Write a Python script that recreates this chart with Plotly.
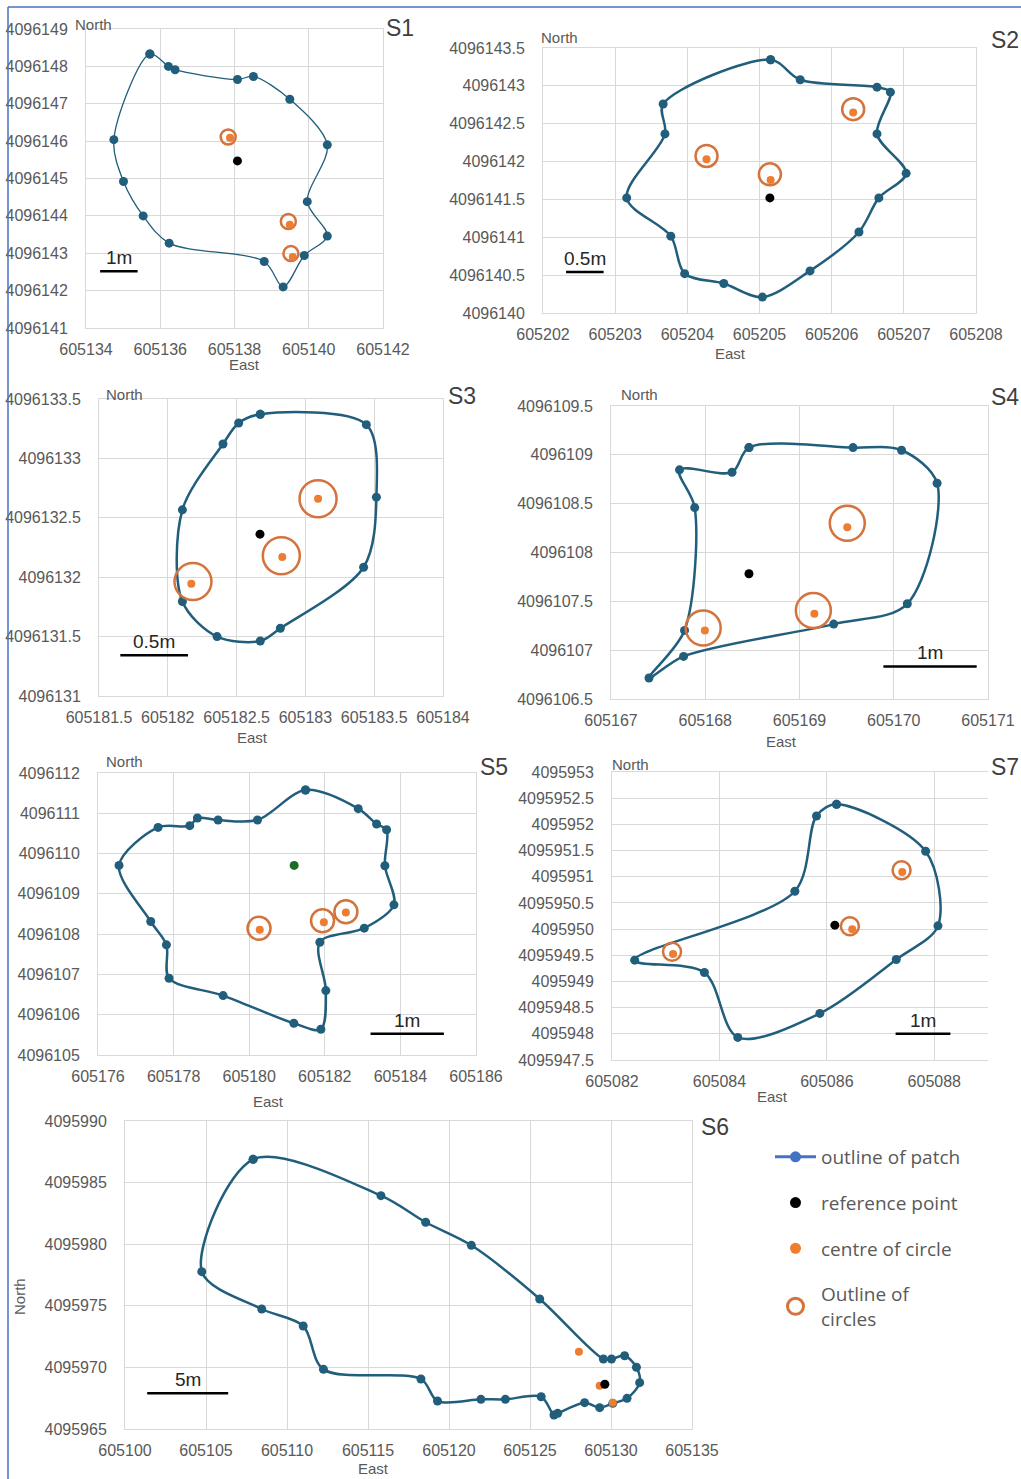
import plotly.graph_objects as go

W, H = 1021, 1479

# ---------------- data ----------------
# S1
s1_east = [605135.72, 605136.22, 605136.40, 605138.08, 605138.51, 605139.49, 605140.50, 605139.96,
           605140.50, 605139.88, 605139.31, 605138.80, 605136.24, 605135.54, 605135.01, 605134.75]
s1_north = [4096148.33, 4096148.00, 4096147.91, 4096147.65, 4096147.73, 4096147.12, 4096145.90, 4096144.38,
            4096143.46, 4096142.94, 4096142.10, 4096142.78, 4096143.27, 4096144.00, 4096144.92, 4096146.04]
s1_ring_east = [605137.83, 605139.45, 605139.52]
s1_ring_north = [4096146.11, 4096143.85, 4096142.99]
s1_centre_east = [605137.88, 605139.49, 605139.57]
s1_centre_north = [4096146.09, 4096143.76, 4096142.90]
s1_ref_east = [605138.08]
s1_ref_north = [4096145.47]

# S2
s2_east = [605205.154, 605205.564, 605206.628, 605206.814, 605206.628, 605207.032, 605206.654, 605206.378,
           605205.70, 605205.04, 605204.505, 605203.963, 605203.771, 605203.16, 605203.69, 605203.665]
s2_north = [4096143.345, 4096143.08, 4096142.983, 4096142.917, 4096142.365, 4096141.845, 4096141.52, 4096141.07,
            4096140.556, 4096140.21, 4096140.39, 4096140.52, 4096141.015, 4096141.52, 4096142.365, 4096142.76]
s2_ring_east = [605204.266, 605205.144, 605206.298]
s2_ring_north = [4096142.074, 4096141.831, 4096142.692]
s2_centre_east = [605204.266, 605205.154, 605206.298]
s2_centre_north = [4096142.03, 4096141.756, 4096142.648]
s2_ref_east = [605205.144]
s2_ref_north = [4096141.52]

# S3
s3_east = [605182.672, 605182.515, 605182.401, 605182.106, 605182.106, 605182.358, 605182.672, 605182.818,
           605183.423, 605183.516, 605183.443]
s3_north = [4096133.371, 4096133.298, 4096133.121, 4096132.567, 4096131.795, 4096131.50, 4096131.463, 4096131.57,
            4096132.084, 4096132.674, 4096133.284]
s3_ring_east = [605182.183, 605182.825, 605183.092]
s3_ring_north = [4096131.963, 4096132.18, 4096132.66]
s3_centre_east = [605182.171, 605182.832, 605183.092]
s3_centre_north = [4096131.944, 4096132.171, 4096132.66]
s3_ref_east = [605182.67]
s3_ref_north = [4096132.362]

# S4
s4_east = [605168.464, 605169.568, 605170.083, 605170.46, 605170.144, 605169.363, 605167.77, 605167.403,
           605167.78, 605167.888, 605167.727, 605168.284]
s4_north = [4096109.074, 4096109.074, 4096109.047, 4096108.709, 4096107.475, 4096107.267, 4096106.936, 4096106.715,
            4096107.202, 4096108.46, 4096108.846, 4096108.822]
s4_ring_east = [605167.978, 605169.147, 605169.507]
s4_ring_north = [4096107.226, 4096107.407, 4096108.30]
s4_centre_east = [605167.996, 605169.158, 605169.507]
s4_centre_north = [4096107.202, 4096107.373, 4096108.259]
s4_ref_east = [605168.464]
s4_ref_north = [4096107.782]

# S5
s5_east = [605181.49, 605182.884, 605183.37, 605183.635, 605183.59, 605183.829, 605183.043, 605181.869,
           605182.028, 605181.896, 605181.181, 605179.31, 605177.88, 605177.81, 605177.395, 605176.556,
           605177.589, 605178.427, 605178.63, 605179.177, 605180.219]
s5_north = [4096111.578, 4096111.114, 4096110.733, 4096110.592, 4096109.698, 4096108.728, 4096108.148, 4096107.80,
            4096106.599, 4096105.638, 4096105.787, 4096106.475, 4096106.906, 4096107.734, 4096108.314, 4096109.706,
            4096110.65, 4096110.692, 4096110.882, 4096110.833, 4096110.833]
s5_ring_east = [605180.26, 605181.94, 605182.558]
s5_ring_north = [4096108.148, 4096108.33, 4096108.554]
s5_centre_east = [605180.28, 605181.975, 605182.558]
s5_centre_north = [4096108.107, 4096108.297, 4096108.538]
s5_ref_east = [605181.19]
s5_ref_north = [4096109.706]

# S7
s7_east = [605086.18, 605087.839, 605088.068, 605087.292, 605085.87, 605084.342, 605083.72, 605082.422,
           605085.404, 605085.807]
s7_north = [4095952.382, 4095951.486, 4095950.062, 4095949.42, 4095948.39, 4095947.932, 4095949.172, 4095949.407,
            4095950.723, 4095952.16]
s7_ring_east = [605083.118, 605086.429, 605087.391]
s7_ring_north = [4095949.566, 4095950.056, 4095951.124]
s7_centre_east = [605083.137, 605086.472, 605087.404]
s7_centre_north = [4095949.522, 4095949.998, 4095951.092]
s7_ref_east = [605086.149]
s7_ref_north = [4095950.075]

# S6
s6_east = [605107.91, 605115.80, 605118.56, 605121.38, 605125.60, 605129.53, 605130.03, 605130.84,
           605131.57, 605131.77, 605130.99, 605130.11, 605129.30, 605128.37, 605126.71, 605126.48,
           605125.69, 605123.48, 605121.97, 605119.29, 605118.27, 605112.25, 605111.00, 605108.44, 605104.74]
s6_north = [4095986.89, 4095983.94, 4095981.78, 4095979.91, 4095975.55, 4095970.68, 4095970.68, 4095970.95,
            4095970.01, 4095968.76, 4095967.49, 4095967.08, 4095966.73, 4095967.14, 4095966.27, 4095966.14,
            4095967.62, 4095967.41, 4095967.41, 4095967.27, 4095969.06, 4095969.84, 4095973.36, 4095974.74, 4095977.77]
s6_ring_east = []
s6_ring_north = []
s6_centre_east = [605128.02, 605129.30, 605130.11]
s6_centre_north = [4095971.28, 4095968.52, 4095967.14]
s6_ref_east = [605129.62]
s6_ref_north = [4095968.63]

# tick values
s1_xticks = [605134, 605136, 605138, 605140, 605142]
s1_yticks = [4096141, 4096142, 4096143, 4096144, 4096145, 4096146, 4096147, 4096148, 4096149]
s2_xticks = [605202, 605203, 605204, 605205, 605206, 605207, 605208]
s2_yticks = [4096140, 4096140.5, 4096141, 4096141.5, 4096142, 4096142.5, 4096143, 4096143.5]
s3_xticks = [605181.5, 605182, 605182.5, 605183, 605183.5, 605184]
s3_yticks = [4096131, 4096131.5, 4096132, 4096132.5, 4096133, 4096133.5]
s4_xticks = [605167, 605168, 605169, 605170, 605171]
s4_yticks = [4096106.5, 4096107, 4096107.5, 4096108, 4096108.5, 4096109, 4096109.5]
s5_xticks = [605176, 605178, 605180, 605182, 605184, 605186]
s5_yticks = [4096105, 4096106, 4096107, 4096108, 4096109, 4096110, 4096111, 4096112]
s7_xticks = [605082, 605084, 605086, 605088]
s7_yticks = [4095947.5, 4095948, 4095948.5, 4095949, 4095949.5, 4095950, 4095950.5, 4095951,
             4095951.5, 4095952, 4095952.5, 4095953]
s6_xticks = [605100, 605105, 605110, 605115, 605120, 605125, 605130, 605135]
s6_yticks = [4095965, 4095970, 4095975, 4095980, 4095985, 4095990]

# scale bars (data units)
scale_labels = ["1m", "0.5m", "0.5m", "1m", "1m", "1m", "5m"]
scale_x0 = [605134.38, 605202.32, 605181.655, 605169.89, 605183.21, 605087.28, 605101.37]
scale_x1 = [605135.39, 605202.84, 605182.147, 605170.88, 605185.15, 605088.30, 605106.37]
scale_y = [4096142.52, 4096140.54, 4096131.343, 4096106.834, 4096105.53, 4095948.0, 4095967.9]

panel_names = ["S1", "S2", "S3", "S4", "S5", "S7", "S6"]
legend_names = ["outline of patch", "reference point", "centre of circle", "Outline of<br>circles"]

# ---------------- layout / style ----------------
OUTLINE = "#215E7C"
ORANGE = "#ED7D31"
RING = "#D4733C"
GRID = "#D9D9D9"
TICKC = "#595959"
FONT = "Liberation Sans, Arial, sans-serif"


def fmt(v):
    s = f"{v:.1f}"
    return s[:-2] if s.endswith(".0") else s


def px(xp):
    return xp / W


def py(yp):
    return 1 - yp / H


panels = [
    dict(e=s1_east, n=s1_north, re=s1_ring_east, rn=s1_ring_north, ce=s1_centre_east, cn=s1_centre_north,
         fe=s1_ref_east, fn=s1_ref_north, xt=s1_xticks, yt=s1_yticks, box=(86, 383, 29, 328),
         lw=1.3, ring=15, refc="black", north=(73, 24), east=(244, 364), lab=(400, 28)),
    dict(e=s2_east, n=s2_north, re=s2_ring_east, rn=s2_ring_north, ce=s2_centre_east, cn=s2_centre_north,
         fe=s2_ref_east, fn=s2_ref_north, xt=s2_xticks, yt=s2_yticks, box=(543, 976, 48, 313),
         lw=2.5, ring=22, refc="black", north=(539, 37), east=(730, 353), lab=(1005, 40)),
    dict(e=s3_east, n=s3_north, re=s3_ring_east, rn=s3_ring_north, ce=s3_centre_east, cn=s3_centre_north,
         fe=s3_ref_east, fn=s3_ref_north, xt=s3_xticks, yt=s3_yticks, box=(99, 443, 399, 696),
         lw=2.5, ring=37, refc="black", north=(104, 394), east=(252, 737), lab=(462, 396)),
    dict(e=s4_east, n=s4_north, re=s4_ring_east, rn=s4_ring_north, ce=s4_centre_east, cn=s4_centre_north,
         fe=s4_ref_east, fn=s4_ref_north, xt=s4_xticks, yt=s4_yticks, box=(611, 988, 406, 699),
         lw=2.5, ring=35, refc="black", north=(619, 394), east=(781, 741), lab=(1005, 397)),
    dict(e=s5_east, n=s5_north, re=s5_ring_east, rn=s5_ring_north, ce=s5_centre_east, cn=s5_centre_north,
         fe=s5_ref_east, fn=s5_ref_north, xt=s5_xticks, yt=s5_yticks, box=(98, 476, 773, 1055),
         lw=2.5, ring=23, refc="#1E6B26", north=(104, 761), east=(268, 1101), lab=(494, 767)),
    dict(e=s7_east, n=s7_north, re=s7_ring_east, rn=s7_ring_north, ce=s7_centre_east, cn=s7_centre_north,
         fe=s7_ref_east, fn=s7_ref_north, xt=s7_xticks, yt=s7_yticks, box=(612, 988, 772, 1060),
         lw=2.5, ring=18, refc="black", north=(610, 764), east=(772, 1096), lab=(1005, 767),
         xr=[605082, 605089], ymirror=False),
    dict(e=s6_east, n=s6_north, re=s6_ring_east, rn=s6_ring_north, ce=s6_centre_east, cn=s6_centre_north,
         fe=s6_ref_east, fn=s6_ref_north, xt=s6_xticks, yt=s6_yticks, box=(125, 692, 1121, 1429),
         lw=2.5, ring=18, refc="black", north=None, east=(373, 1468), lab=(715, 1127)),
]

fig = go.Figure()
annotations = []
shapes = []

for i, p in enumerate(panels):
    k = i + 1
    xa = "x" if k == 1 else f"x{k}"
    ya = "y" if k == 1 else f"y{k}"
    xs = "xaxis" if k == 1 else f"xaxis{k}"
    ys = "yaxis" if k == 1 else f"yaxis{k}"

    # outline of patch (closed)
    fig.add_trace(go.Scatter(
        x=p["e"] + p["e"][:1], y=p["n"] + p["n"][:1], mode="lines+markers",
        line=dict(color=OUTLINE, width=p["lw"], shape="spline", smoothing=0.9),
        marker=dict(color=OUTLINE, size=9), xaxis=xa, yaxis=ya, showlegend=False, hoverinfo="skip"))
    # outline of circles
    if p["re"]:
        fig.add_trace(go.Scatter(
            x=p["re"], y=p["rn"], mode="markers",
            marker=dict(symbol="circle-open", size=p["ring"], color=RING, line=dict(width=2.5, color=RING)),
            xaxis=xa, yaxis=ya, showlegend=False, hoverinfo="skip"))
    # centre of circles
    fig.add_trace(go.Scatter(
        x=p["ce"], y=p["cn"], mode="markers", marker=dict(color=ORANGE, size=8),
        xaxis=xa, yaxis=ya, showlegend=False, hoverinfo="skip"))
    # reference point
    fig.add_trace(go.Scatter(
        x=p["fe"], y=p["fn"], mode="markers", marker=dict(color=p["refc"], size=9),
        xaxis=xa, yaxis=ya, showlegend=False, hoverinfo="skip"))

    x0, x1, y0, y1 = p["box"]
    xr = p.get("xr", [p["xt"][0], p["xt"][-1]])
    axis_common = dict(showgrid=True, gridcolor=GRID, gridwidth=1, zeroline=False, showline=True,
                       linecolor=GRID, linewidth=1, ticks="", automargin=False,
                       tickfont=dict(family=FONT, size=16, color=TICKC), fixedrange=True)
    fig.update_layout(**{
        xs: dict(domain=[px(x0), px(x1)], range=xr, anchor=ya, tickvals=p["xt"], mirror=True,
                 ticktext=[fmt(v) for v in p["xt"]], ticklabelstandoff=7, **axis_common),
        ys: dict(domain=[py(y1), py(y0)], range=[p["yt"][0], p["yt"][-1]], anchor=xa, tickvals=p["yt"],
                 mirror=p.get("ymirror", True),
                 ticktext=[fmt(v) for v in p["yt"]], ticklabelstandoff=14, **axis_common),
    })

    # scale bar
    shapes.append(dict(type="line", xref=xa, yref=ya, x0=scale_x0[i], x1=scale_x1[i],
                       y0=scale_y[i], y1=scale_y[i], line=dict(color="black", width=2.5)))
    annotations.append(dict(xref=xa, yref=ya, x=(scale_x0[i] + scale_x1[i]) / 2, y=scale_y[i],
                            text=scale_labels[i], showarrow=False, yanchor="bottom", yshift=1,
                            font=dict(family=FONT, size=19, color="#262626")))
    # panel label
    annotations.append(dict(xref="paper", yref="paper", x=px(p["lab"][0]), y=py(p["lab"][1]),
                            text=panel_names[i], showarrow=False, xanchor="center", yanchor="middle",
                            font=dict(family=FONT, size=23, color="#404040")))
    # axis names
    if p["north"]:
        annotations.append(dict(xref="paper", yref="paper", x=px(p["north"][0]), y=py(p["north"][1]),
                                text="North", showarrow=False, xanchor="left", yanchor="middle",
                                font=dict(family=FONT, size=15, color=TICKC)))
    annotations.append(dict(xref="paper", yref="paper", x=px(p["east"][0]), y=py(p["east"][1]),
                            text="East", showarrow=False, xanchor="center", yanchor="middle",
                            font=dict(family=FONT, size=15, color=TICKC)))

# S6 vertical North
annotations.append(dict(xref="paper", yref="paper", x=px(19), y=py(1297), text="North", textangle=-90,
                        showarrow=False, xanchor="center", yanchor="middle",
                        font=dict(family=FONT, size=15, color=TICKC)))

# legend-only entries
fig.add_trace(go.Scatter(x=[None], y=[None], mode="lines+markers", name=legend_names[0], legendgroup="a",
                         line=dict(color="#4472C4", width=3), marker=dict(color="#4472C4", size=11)))
fig.add_trace(go.Scatter(x=[None], y=[None], mode="markers", name=legend_names[1], legendgroup="b",
                         marker=dict(color="black", size=11)))
fig.add_trace(go.Scatter(x=[None], y=[None], mode="markers", name=legend_names[2], legendgroup="c",
                         marker=dict(color=ORANGE, size=11)))
fig.add_trace(go.Scatter(x=[None], y=[None], mode="markers", name=legend_names[3], legendgroup="d",
                         marker=dict(symbol="circle-open", color=RING, size=16, line=dict(width=3, color=RING))))

# blue frame of the picture
shapes.append(dict(type="line", xref="paper", yref="paper", x0=px(8), x1=px(8), y0=py(7), y1=0,
                   line=dict(color="#4472C4", width=1.5)))
shapes.append(dict(type="line", xref="paper", yref="paper", x0=px(8), x1=1, y0=py(7), y1=py(7),
                   line=dict(color="#4472C4", width=1.5)))

fig.update_layout(
    width=W, height=H, margin=dict(l=0, r=0, t=0, b=0, autoexpand=False),
    paper_bgcolor="white", plot_bgcolor="white",
    annotations=annotations, shapes=shapes,
    showlegend=True,
    legend=dict(x=px(770), y=py(1138), xanchor="left", yanchor="top", traceorder="grouped",
                tracegroupgap=18, itemsizing="trace", itemwidth=41, bgcolor="rgba(0,0,0,0)",
                font=dict(family="Open Sans, Noto Sans, sans-serif", size=19, color="#595959")),
)

fig.write_html("out.html", config={"displayModeBar": False},
               post_script="document.body.style.margin='0px';document.body.style.padding='0px';")
